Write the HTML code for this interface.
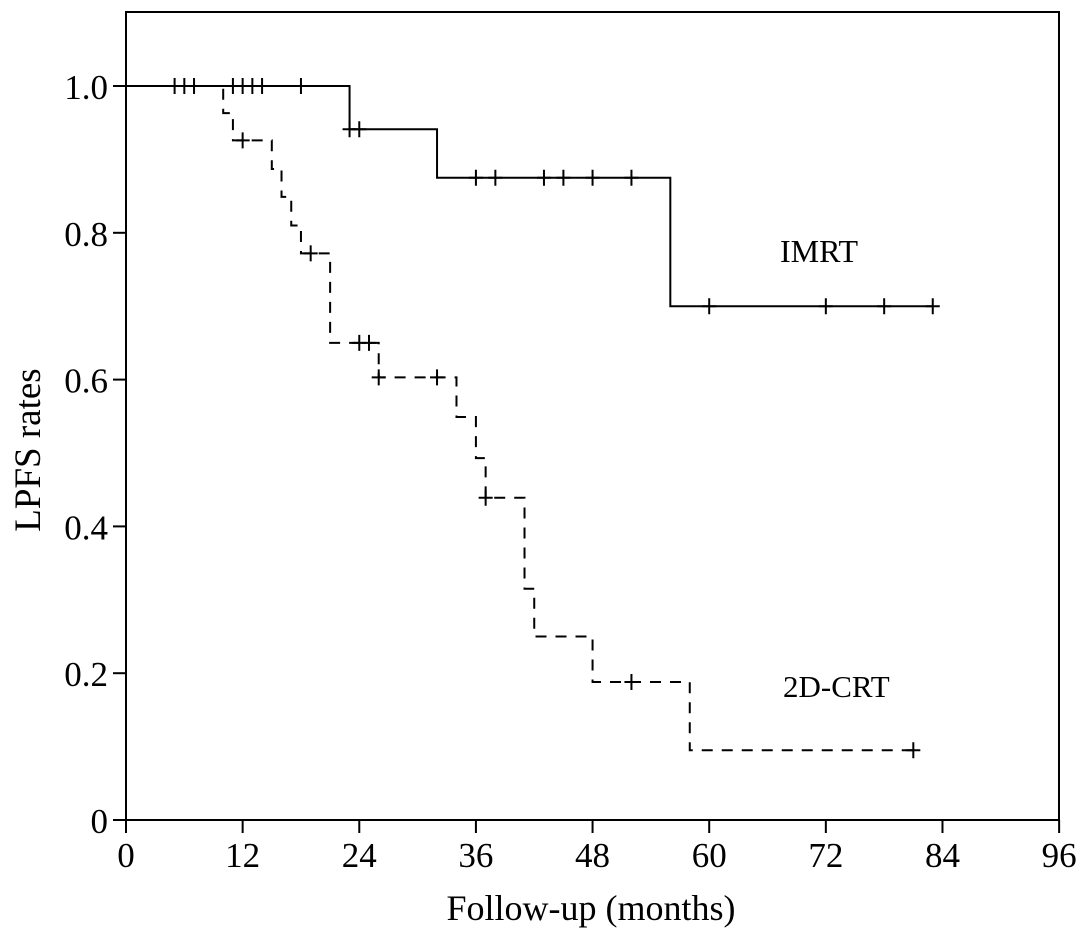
<!DOCTYPE html>
<html><head><meta charset="utf-8"><style>
body{margin:0;background:#fff}
svg text{font-family:"Liberation Serif",serif;fill:#000}
</style></head><body>
<svg id="chart" width="1087" height="941" xmlns="http://www.w3.org/2000/svg">
<rect x="126" y="12" width="933" height="808" fill="none" stroke="#000" stroke-width="2"/>
<g id="axes"></g>
<g id="series"></g>
<text x="591" y="920" font-size="36" text-anchor="middle">Follow-up (months)</text>
<text transform="translate(40,450) rotate(-90)" font-size="37" text-anchor="middle">LPFS rates</text>
<text x="780" y="262" font-size="32">IMRT</text>
<text x="783" y="697" font-size="31">2D-CRT</text>
</svg>
<script>
const xTicks=[0,12,24,36,48,60,72,84,96];
const yTicks=[0,0.2,0.4,0.6,0.8,1.0];
const yTickLabels=["0","0.2","0.4","0.6","0.8","1.0"];
const imrtTimes=[0,23,32,56,83];
const imrtSurv=[1.0,0.941,0.875,0.70,0.70];
const imrtCensor=[5,6,7,11,12,13,14,18,23,24,36,38,43,45,48,52,60,72,78,83];
const crtTimes=[0,10,11,15,16,17,18,21,26,34,36,37,41,42,48,58,81];
const crtSurv=[1.0,0.963,0.926,0.887,0.849,0.81,0.772,0.65,0.603,0.549,0.493,0.439,0.315,0.25,0.188,0.095,0.095];
const crtCensor=[12,19,24,25,26,32,37,52,81];
const X=t=>126+t*9.72, Y=s=>820-s*734;
const NS="http://www.w3.org/2000/svg";
const ax=document.getElementById('axes'), se=document.getElementById('series');
function mk(tag,attrs,parent){const e=document.createElementNS(NS,tag);for(const k in attrs)e.setAttribute(k,attrs[k]);parent.appendChild(e);return e;}
xTicks.forEach(t=>{
 const l=mk('line',{x1:X(t),x2:X(t),y1:820,y2:833,stroke:'#000','stroke-width':2},ax);
 
 
 const tx=mk('text',{x:X(t),y:867,'font-size':35,'text-anchor':'middle'},ax);tx.textContent=t;
 
 
});
yTicks.forEach((v,i)=>{
 const l=mk('line',{x1:113,x2:126,y1:Y(v),y2:Y(v),stroke:'#000','stroke-width':2},ax);
 
 
 const tx=mk('text',{x:108,y:Y(v)+13,'font-size':35,'text-anchor':'end'},ax);tx.textContent=yTickLabels[i];
 
 
});
function stepPath(ts,ss){let d=`M${X(ts[0])},${Y(ss[0])}`;for(let i=1;i<ts.length;i++){d+=` H${X(ts[i])} V${Y(ss[i])}`;}return d;}
function survAt(ts,ss,t){let s=ss[0];for(let i=0;i<ts.length;i++){if(ts[i]<=t)s=ss[i];}return s;}
function drawSeries(ts,ss,cs,dash,name){
 const p=mk('path',{d:stepPath(ts,ss),fill:'none',stroke:'#000','stroke-width':2},se);
 if(dash)p.setAttribute('stroke-dasharray','11,9');
 
 
 cs.forEach(t=>{
  const y=Y(survAt(ts,ss,t));
  const c=mk('path',{d:`M${X(t)},${y-8} V${y+8} M${X(t)-7},${y} H${X(t)+7}`,stroke:'#000','stroke-width':2,fill:'none'},se);
  
  
 });
}
drawSeries(imrtTimes,imrtSurv,imrtCensor,false,'imrt');
drawSeries(crtTimes,crtSurv,crtCensor,true,'2dcrt');
</script>
</body></html>
